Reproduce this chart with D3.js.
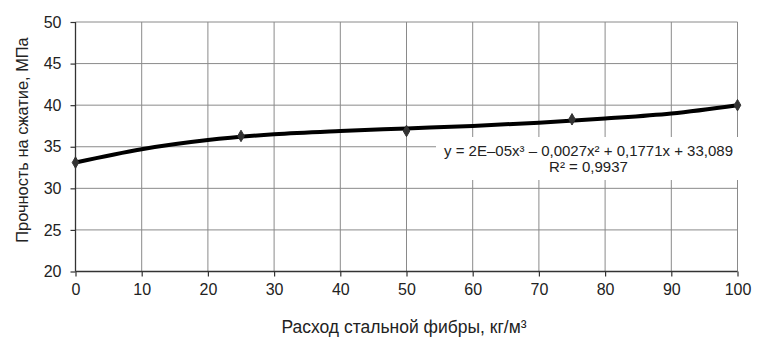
<!DOCTYPE html>
<html>
<head>
<meta charset="utf-8">
<script src="https://cdn.jsdelivr.net/npm/d3@7"></script>
<style>
  body { margin: 0; background: #fff; }
  svg { display: block; font-family: "Liberation Sans", Arial, sans-serif; }
</style>
</head>
<body>
<svg id="chart" width="763" height="353"></svg>
<script>
// Measured points
const fiberDose = [0, 25, 50, 75, 100];
const strength = [33.1, 36.3, 36.9, 38.3, 40.0];
// Trend line
const trendX = [0, 10, 20, 30, 40, 50, 60, 70, 80, 90, 100];
const trendY = [33.1, 34.7, 35.8, 36.5, 36.9, 37.2, 37.5, 37.9, 38.4, 39.0, 40.0];
// Axis ticks
const xTicks = [0, 10, 20, 30, 40, 50, 60, 70, 80, 90, 100];
const yTicks = [20, 25, 30, 35, 40, 45, 50];
const xTitle = "Расход стальной фибры, кг/м³";
const yTitle = "Прочность на сжатие, МПа";
const eqLine1 = "y = 2E–05x³ – 0,0027x² + 0,1771x + 33,089";
const eqLine2 = "R² = 0,9937";

(function () {
const svg = d3.select("#chart");
const pL = 75.5, pR = 737.5, pT = 22, pB = 271.5;
const x = d3.scaleLinear().domain([0, 100]).range([pL, pR]);
const y = d3.scaleLinear().domain([20, 50]).range([pB, pT]);

// gridlines
const grid = svg.append("g");
grid.selectAll(".vg").data(xTicks.filter(d => d > 0)).enter().append("line")
  .attr("x1", d => x(d)).attr("x2", d => x(d))
  .attr("y1", pT).attr("y2", pB)
  .attr("stroke", "#8a8a8a").attr("stroke-width", 1);
grid.selectAll(".hg").data(yTicks.filter(d => d > 20)).enter().append("line")
  .attr("x1", pL).attr("x2", pR)
  .attr("y1", d => y(d)).attr("y2", d => y(d))
  .attr("stroke", "#8a8a8a").attr("stroke-width", 1);

// equation label background
svg.append("rect")
  .attr("x", 436).attr("y", 137).attr("width", 304).attr("height", 43)
  .attr("fill", "#fff");

// axes
const xAxis = d3.axisBottom(x).tickValues(xTicks).tickSize(5).tickPadding(7).tickFormat(d3.format("d"));
const yAxis = d3.axisLeft(y).tickValues(yTicks).tickSize(5).tickPadding(9).tickFormat(d3.format("d"));
const gx = svg.append("g").attr("transform", `translate(0,${pB})`).call(xAxis);
const gy = svg.append("g").attr("transform", `translate(${pL},0)`).call(yAxis);
[gx, gy].forEach(g => {
  g.select(".domain").attr("stroke", "#333").attr("stroke-width", 1.3);
  g.selectAll(".tick line").attr("stroke", "#333").attr("stroke-width", 1.2);
  g.selectAll(".tick text").attr("fill", "#222").style("font-size", "16px")
    .style("font-family", "'Liberation Sans', Arial, sans-serif");
});
gx.select(".domain").attr("d", `M${pL},0H${pR}`);
gy.select(".domain").attr("d", `M0,${pB}V${pT}`);

// trend line
const line = d3.line().x((d, i) => x(trendX[i])).y(d => y(d)).curve(d3.curveMonotoneX);
svg.append("path").datum(trendY)
  .attr("d", line).attr("fill", "none")
  .attr("stroke", "#000").attr("stroke-width", 4).attr("stroke-linejoin", "round");

// markers
svg.selectAll(".pt").data(strength).enter().append("path")
  .attr("d", d3.symbol().type(d3.symbolDiamond).size(38))
  .attr("transform", (d, i) => `translate(${x(fiberDose[i])},${y(d)})`)
  .attr("fill", "#333").attr("stroke", "#333").attr("stroke-width", 1);

// equation
const eq = svg.append("g").attr("fill", "#222").style("font-size", "15px");
eq.append("text").attr("x", 588.5).attr("y", 156).attr("text-anchor", "middle").text(eqLine1);
eq.append("text").attr("x", 588.5).attr("y", 172).attr("text-anchor", "middle").text(eqLine2);

// titles
svg.append("text").attr("x", 404).attr("y", 333).attr("text-anchor", "middle")
  .attr("fill", "#222").style("font-size", "17.5px").text(xTitle);
svg.append("text").attr("transform", "translate(28,140) rotate(-90)")
  .attr("text-anchor", "middle").attr("fill", "#222").style("font-size", "16.4px").text(yTitle);
})();
</script>
</body>
</html>
